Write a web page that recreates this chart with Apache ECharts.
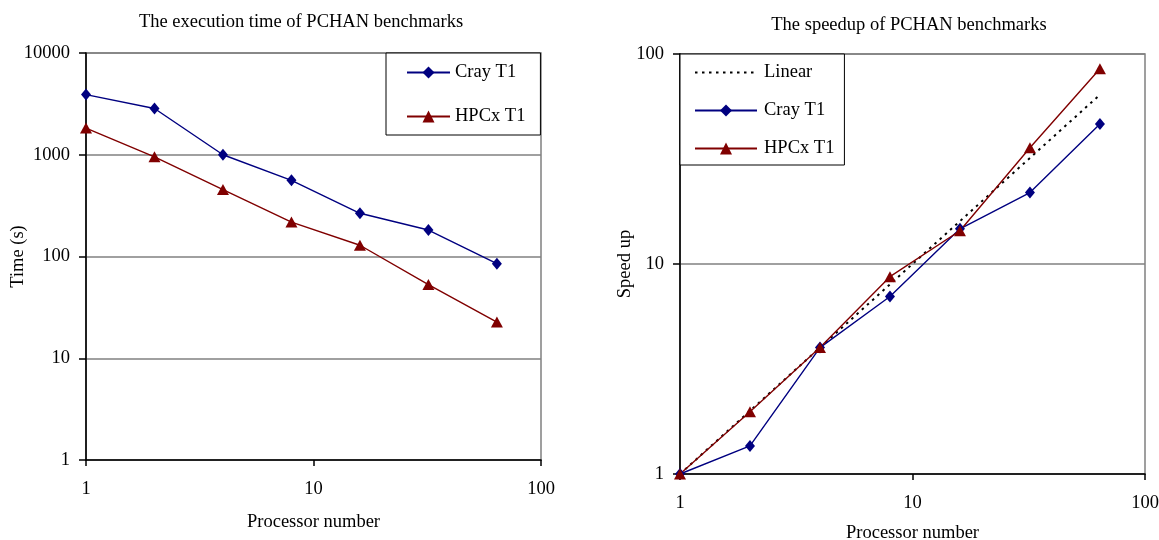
<!DOCTYPE html>
<html>
<head>
<meta charset="utf-8">
<script src="https://cdn.jsdelivr.net/npm/echarts@6/dist/echarts.min.js"></script>
<style>
  html, body { margin: 0; padding: 0; background: #fff; }
  #chart { width: 1159px; height: 540px; }
</style>
</head>
<body>
<div id="chart"></div>
<script>
// processor counts shared by both panels
const processors = [1, 2, 4, 8, 16, 32, 64];

// execution time (s)
const crayTime = [3900, 2850, 1000, 560, 266, 182, 85];
const hpcxTime = [1830, 955, 455, 218, 129, 53, 22.7];

// speedup
const linearSpeedup = [1, 2, 4, 8, 16, 32, 64];
const craySpeedup = [1, 1.36, 4.0, 7.0, 14.7, 21.9, 46.4];
const hpcxSpeedup = [1, 1.98, 4.0, 8.7, 14.4, 35.8, 85];

const FONT = "Liberation Serif";
const FS = 18.5;
const NAVY = "#000080";
const DARKRED = "#800000";

const pairs = (ys) => processors.map((x, i) => [x, ys[i]]);

const txt = { fontFamily: FONT, fontSize: FS, color: "#000" };

function xAxisFor(gridIndex, nameGap) {
  return {
    type: "log",
    logBase: 10,
    gridIndex: gridIndex,
    min: 1,
    max: 100,
    name: "Processor number",
    nameLocation: "middle",
    nameGap: nameGap,
    nameMoveOverlap: false,
    nameTextStyle: txt,
    axisLine: { lineStyle: { color: "#000", width: 1.6 } },
    axisTick: { show: true, length: 6, lineStyle: { color: "#000", width: 1.5 } },
    minorTick: { show: false },
    axisLabel: Object.assign({}, txt, { margin: 20, formatter: (v) => String(v) }),
    splitLine: { show: false },
  };
}

function yAxisFor(gridIndex, max, name, nameGap) {
  return {
    type: "log",
    logBase: 10,
    gridIndex: gridIndex,
    min: 1,
    max: max,
    name: name,
    nameLocation: "middle",
    nameGap: nameGap,
    nameMoveOverlap: false,
    nameTextStyle: txt,
    axisLine: { lineStyle: { color: "#000", width: 1.6 } },
    axisTick: { show: true, length: 7, lineStyle: { color: "#000", width: 1.5 } },
    axisLabel: Object.assign({}, txt, { margin: 16, formatter: (v) => String(v) }),
    splitLine: { show: true, lineStyle: { color: "#808080", width: 1.5 } },
  };
}

function craySeries(xi, yi, data) {
  return {
    name: "Cray T1",
    type: "line",
    xAxisIndex: xi,
    yAxisIndex: yi,
    data: data,
    symbol: "diamond",
    symbolSize: [10, 12],
    lineStyle: { color: NAVY, width: 1.4 },
    itemStyle: { color: NAVY },
    animation: false,
  };
}

function hpcxSeries(xi, yi, data) {
  return {
    name: "HPCx T1",
    type: "line",
    xAxisIndex: xi,
    yAxisIndex: yi,
    data: data,
    symbol: "triangle",
    symbolSize: [12, 11],
    lineStyle: { color: DARKRED, width: 1.4 },
    itemStyle: { color: DARKRED },
    animation: false,
  };
}

const chart = echarts.init(document.getElementById("chart"));

const option = {
  backgroundColor: "#fff",
  animation: false,
  title: [
    {
      text: "The execution time of PCHAN benchmarks",
      left: 296, top: 8, textAlign: "center",
      textStyle: Object.assign({}, txt, { fontWeight: "normal" }),
    },
    {
      text: "The speedup of PCHAN benchmarks",
      left: 904, top: 11, textAlign: "center",
      textStyle: Object.assign({}, txt, { fontWeight: "normal" }),
    },
  ],
  grid: [
    { left: 86, top: 53, width: 455, height: 407, outerBoundsMode: "none", show: true, borderColor: "#808080", borderWidth: 1.5, backgroundColor: "#fff" },
    { left: 680, top: 54, width: 465, height: 420, outerBoundsMode: "none", show: true, borderColor: "#808080", borderWidth: 1.5, backgroundColor: "#fff" },
  ],
  legend: [
    {
      data: ["Cray T1", "HPCx T1"],
      orient: "vertical",
      left: 386, top: 53,
      padding: [10, 15, 9, 20],
      itemWidth: 43, itemHeight: 15, itemGap: 25,
      borderColor: "#000", borderWidth: 1, backgroundColor: "#fff",
      textStyle: txt,
    },
    {
      data: [
        { name: "Linear", itemStyle: { opacity: 0 } },
        "Cray T1",
        "HPCx T1",
      ],
      orient: "vertical",
      left: 680, top: 54,
      padding: [9, 10, 7, 14],
      itemWidth: 62, itemHeight: 15, itemGap: 19,
      borderColor: "#000", borderWidth: 1, backgroundColor: "#fff",
      textStyle: Object.assign({}, txt, { padding: [0, 0, 0, 2] }),
    },
  ],
  xAxis: [xAxisFor(0, 53), xAxisFor(1, 50)],
  yAxis: [yAxisFor(0, 10000, "Time (s)", 58), yAxisFor(1, 100, "Speed up", 45)],
  series: [
    craySeries(0, 0, pairs(crayTime)),
    hpcxSeries(0, 0, pairs(hpcxTime)),
    {
      name: "Linear",
      type: "line",
      xAxisIndex: 1,
      yAxisIndex: 1,
      data: pairs(linearSpeedup),
      symbol: "none",
      lineStyle: { color: "#000", width: 2, type: [2.5, 4.5] },
      itemStyle: { color: "#000" },
      animation: false,
    },
    craySeries(1, 1, pairs(craySpeedup)),
    hpcxSeries(1, 1, pairs(hpcxSpeedup)),
  ],
};

chart.setOption(option);
</script>
</body>
</html>
